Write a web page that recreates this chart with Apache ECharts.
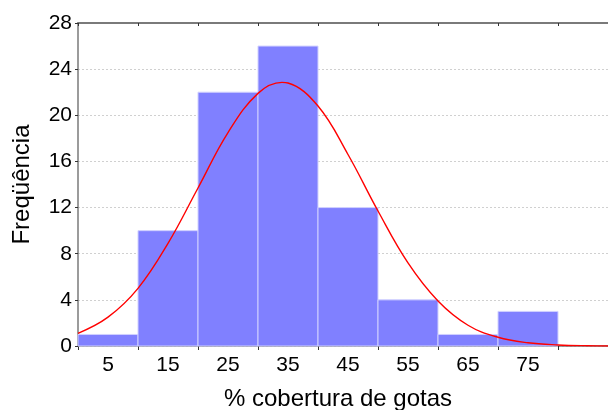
<!DOCTYPE html>
<html><head><meta charset="utf-8">
<script src="https://cdn.jsdelivr.net/npm/echarts@6/dist/echarts.min.js"></script>
<style>html,body{margin:0;padding:0;background:#fff}#c{width:608px;height:410px}</style>
</head><body><div id="c"></div>
<script>
const binCenters = [5, 15, 25, 35, 45, 55, 65, 75];
const counts = [1, 10, 22, 26, 12, 4, 1, 3];
const binWidth = 10;
const curveX = [0, 5, 10, 15, 20, 25, 30, 34, 35, 40, 45, 50, 55, 60, 65, 70, 75, 80, 85, 90];
const curveY = [1.1, 2.5, 5.0, 8.9, 13.7, 18.5, 21.9, 22.85, 22.8, 20.8, 16.6, 11.7, 7.2, 3.9, 1.8, 0.76, 0.28, 0.09, 0.02, 0.0];
const yTicks = [0, 4, 8, 12, 16, 20, 24, 28];
const xLabels = [5, 15, 25, 35, 45, 55, 65, 75];
const xTitle = '% cobertura de gotas';
const yTitle = 'Freqüência';

const chart = echarts.init(document.getElementById('c'), null, {renderer: 'canvas'});
const font = 'Liberation Sans, Arial, sans-serif';
const axisColor = '#7a7a7a';
chart.setOption({
  animation: false,
  grid: {left: 78, top: 23, right: -10, bottom: 64, outerBoundsMode: 'none', containLabel: false},
  xAxis: [
    {type: 'value', min: 0, max: 90, interval: 5, position: 'bottom',
     axisLine: {show: true, lineStyle: {color: axisColor, width: 1.5}},
     axisTick: {show: false},
     splitLine: {show: false},
     axisLabel: {color: '#000', fontFamily: font, fontSize: 21, margin: 9,
       formatter: v => xLabels.indexOf(v) >= 0 ? String(v) : ''},
     name: xTitle, nameLocation: 'middle', nameGap: 41,
     nameTextStyle: {color: '#000', fontFamily: font, fontSize: 24, padding: [0, 20, 0, 0]}},
    {type: 'value', min: 0, max: 90, interval: 10, position: 'bottom',
     axisLine: {show: false}, splitLine: {show: false},
     axisTick: {show: true, length: 4, lineStyle: {color: '#333'}},
     axisLabel: {show: false}},
    {type: 'value', min: 0, max: 90, interval: 10, position: 'top',
     axisLine: {show: true, lineStyle: {color: axisColor, width: 2}},
     axisTick: {show: true, inside: true, length: 3, lineStyle: {color: '#333'}},
     axisLabel: {show: false}, splitLine: {show: false}}
  ],
  yAxis: [{
    type: 'value', min: yTicks[0], max: yTicks[yTicks.length - 1], interval: 4,
    axisLine: {show: true, lineStyle: {color: axisColor, width: 1.5}},
    axisTick: {show: true, length: 3, lineStyle: {color: '#333'}},
    axisLabel: {color: '#000', fontFamily: font, fontSize: 21, margin: 6},
    splitLine: {show: true, lineStyle: {color: '#d0d0d0', type: [2, 2], width: 1}},
    name: yTitle, nameLocation: 'middle', nameGap: 44, nameRotate: 90,
    nameTextStyle: {color: '#000', fontFamily: font, fontSize: 24}
  }],
  series: [
    {type: 'custom', xAxisIndex: 0, yAxisIndex: 0,
     data: binCenters.map((c, i) => [c, counts[i]]),
     renderItem: function (params, api) {
       const c = api.value(0), v = api.value(1);
       const p0 = api.coord([c - binWidth / 2, v]);
       const p1 = api.coord([c + binWidth / 2, 0]);
       return {type: 'rect',
         shape: {x: p0[0], y: p0[1], width: p1[0] - p0[0], height: p1[1] - p0[1]},
         style: {fill: '#8080ff', stroke: '#d0d0ff', lineWidth: 1}};
     }, z: 2},
    {type: 'line', xAxisIndex: 0, yAxisIndex: 0,
     data: curveX.map((x, i) => [x, curveY[i]]),
     smooth: 0.4, showSymbol: false, clip: true,
     lineStyle: {color: '#ff0000', width: 1.4}, z: 3}
  ]
});
</script></body></html>
